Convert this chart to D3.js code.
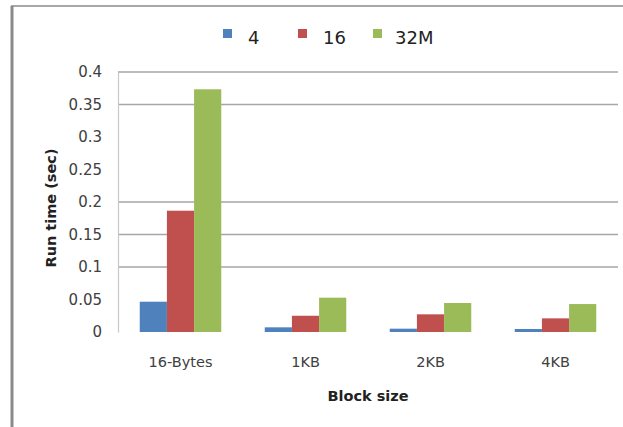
<!DOCTYPE html>
<html>
<head>
<meta charset="utf-8">
<script src="https://cdn.jsdelivr.net/npm/d3@7"></script>
<style>
  html, body { margin: 0; padding: 0; background: #fff; }
  text { font-family: "DejaVu Sans", sans-serif; }
</style>
</head>
<body>
<div id="chart"></div>
<script>
// chart data
const categories = ["16-Bytes", "1KB", "2KB", "4KB"];
const seriesNames = ["4", "16", "32M"];
const series4 = [0.0466, 0.0072, 0.0051, 0.0046];
const series16 = [0.1866, 0.025, 0.0272, 0.021];
const series32M = [0.3734, 0.0528, 0.0446, 0.043];
const tickValues = [0, 0.05, 0.1, 0.15, 0.2, 0.25, 0.3, 0.35, 0.4];
const gridValues = [0.1, 0.15, 0.2, 0.35, 0.4];

function init() {
    const width = 623;
    const height = 427;
    const colors = ["#4F81BD", "#C0504D", "#9BBB59"];
    const allSeries = [series4, series16, series32M];

    const svg = d3.select("#chart")
        .append("svg")
        .attr("width", width)
        .attr("height", height);

    // outer frame (left and top edges only are visible)
    svg.append("line")
        .attr("x1", 12).attr("x2", 12).attr("y1", 6).attr("y2", height)
        .attr("stroke", "#8a8a8a").attr("stroke-width", 3);
    svg.append("line")
        .attr("x1", 11).attr("x2", width).attr("y1", 6).attr("y2", 6)
        .attr("stroke", "#8a8a8a").attr("stroke-width", 1.5);

    const x0 = d3.scaleBand()
        .domain(categories)
        .range([118, 618]);

    const x1 = d3.scaleBand()
        .domain(seriesNames)
        .range([0, x0.bandwidth()])
        .paddingOuter(0.8);

    const y = d3.scaleLinear()
        .domain([0, 0.4])
        .range([332, 72]);

    // gridlines
    svg.append("g")
        .selectAll("line")
        .data(gridValues)
        .join("line")
        .attr("x1", 118).attr("x2", 618)
        .attr("y1", d => y(d)).attr("y2", d => y(d))
        .attr("stroke", "#a6a6a6")
        .attr("stroke-width", 1.5);

    // y axis
    const yAxis = svg.append("g")
        .attr("transform", "translate(118,0)")
        .call(d3.axisLeft(y).tickValues(tickValues).tickSize(0).tickPadding(16)
            .tickFormat(d => d3.format("")(+d.toFixed(2))));
    yAxis.select(".domain").attr("stroke", "#c8c8c8").attr("stroke-width", 1.2);
    yAxis.selectAll("text")
        .attr("font-size", 15)
        .attr("fill", "#404040")
        .attr("font-family", "DejaVu Sans, sans-serif");

    // bars
    const groups = svg.append("g")
        .selectAll("g")
        .data(categories)
        .join("g")
        .attr("transform", d => `translate(${x0(d)},0)`);

    groups.selectAll("rect")
        .data((c, i) => seriesNames.map((s, j) => ({ s: s, v: allSeries[j][i], j: j })))
        .join("rect")
        .attr("x", d => x1(d.s))
        .attr("width", x1.bandwidth())
        .attr("y", d => y(d.v))
        .attr("height", d => y(0) - y(d.v))
        .attr("fill", d => colors[d.j]);

    // x axis labels
    const xAxis = svg.append("g")
        .attr("transform", "translate(0,332)")
        .call(d3.axisBottom(x0).tickSize(0).tickPadding(25));
    xAxis.select(".domain").remove();
    xAxis.selectAll("text")
        .attr("font-size", 14.5)
        .attr("fill", "#404040")
        .attr("font-family", "DejaVu Sans, sans-serif");

    // axis titles
    svg.append("text")
        .attr("x", 368).attr("y", 401)
        .attr("text-anchor", "middle")
        .attr("font-size", 14.5)
        .attr("font-weight", "bold")
        .attr("fill", "#222")
        .text("Block size");

    svg.append("text")
        .attr("transform", "translate(56,208) rotate(-90)")
        .attr("text-anchor", "middle")
        .attr("font-size", 14.5)
        .attr("font-weight", "bold")
        .attr("fill", "#222")
        .text("Run time (sec)");

    // legend
    const legend = svg.append("g")
        .selectAll("g")
        .data(seriesNames)
        .join("g")
        .attr("transform", (d, i) => `translate(${223 + i * 75},29)`);
    legend.append("rect")
        .attr("width", 9).attr("height", 9)
        .attr("fill", (d, i) => colors[i]);
    legend.append("text")
        .attr("x", (d, i) => i === 2 ? 22 : 25)
        .attr("y", 15)
        .attr("font-size", 18)
        .attr("fill", "#222")
        .text(d => d);
}

window.onload = init;
</script>
</body>
</html>
